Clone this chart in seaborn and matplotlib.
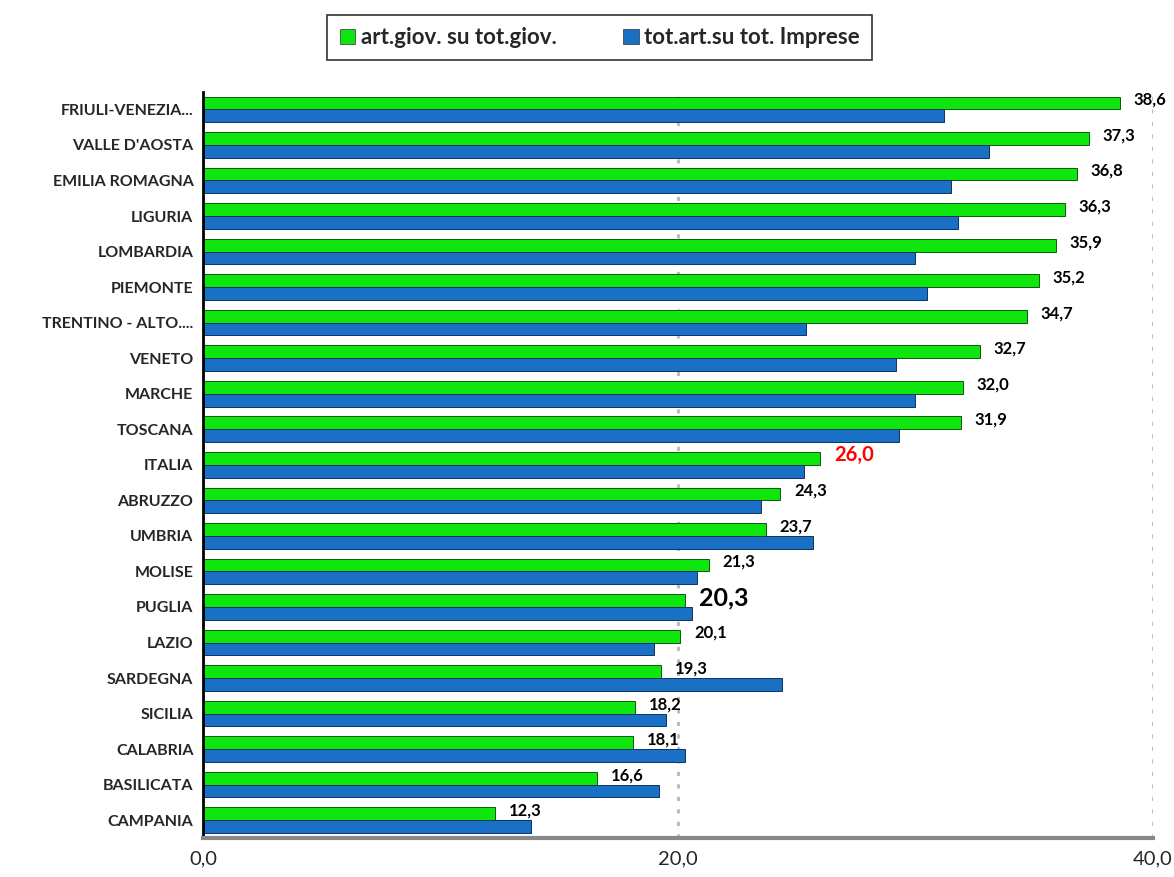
import pandas as pd
import seaborn as sns
import matplotlib.pyplot as plt
from matplotlib.patches import Patch

sns.set_style("white")
plt.rcParams['font.family'] = ['Lato', 'DejaVu Sans']

regions = ["FRIULI-VENEZIA...", "VALLE D'AOSTA", "EMILIA ROMAGNA", "LIGURIA", "LOMBARDIA",
           "PIEMONTE", "TRENTINO - ALTO....", "VENETO", "MARCHE", "TOSCANA", "ITALIA",
           "ABRUZZO", "UMBRIA", "MOLISE", "PUGLIA", "LAZIO", "SARDEGNA", "SICILIA",
           "CALABRIA", "BASILICATA", "CAMPANIA"]
art_giov = [38.6, 37.3, 36.8, 36.3, 35.9, 35.2, 34.7, 32.7, 32.0, 31.9, 26.0,
            24.3, 23.7, 21.3, 20.3, 20.1, 19.3, 18.2, 18.1, 16.6, 12.3]
tot_art = [31.2, 33.1, 31.5, 31.8, 30.0, 30.5, 25.4, 29.2, 30.0, 29.3, 25.3,
           23.5, 25.7, 20.8, 20.6, 19.0, 24.4, 19.5, 20.3, 19.2, 13.8]
series = ["art.giov. su tot.giov.", "tot.art.su tot. Imprese"]
colors = ["#0ee60e", "#1a70c4"]

df = pd.DataFrame({
    "regione": regions * 2,
    "valore": art_giov + tot_art,
    "serie": [series[0]] * len(regions) + [series[1]] * len(regions),
})

fig = plt.figure(figsize=(11.74, 8.77), dpi=100)
ax = fig.add_axes([0.173, 0.0445, 0.809, 0.851])

sns.barplot(data=df, x="valore", y="regione", hue="serie", orient="h",
            palette=colors, saturation=1, width=0.72, gap=0, errorbar=None, ax=ax,
            edgecolor="#0b5a0b", linewidth=0.7, legend=False)
# darker edges for blue bars
for bar in ax.patches[len(regions):]:
    bar.set_edgecolor("#0a3360")

ax.set_xlim(0, 40)
ax.set_ylim(len(regions) - 0.5, -0.5)
ax.set_xticks([0, 20, 40])
ax.set_xticklabels(["0,0", "20,0", "40,0"], fontsize=14.5)
ax.set_xlabel("")
ax.set_ylabel("")
ax.xaxis.grid(True, linestyle=(0, (1.5, 3)), color="#b8b8b8", linewidth=2)
ax.set_axisbelow(True)

ax.set_yticks(range(len(regions)))
ax.set_yticklabels(regions, fontsize=11.5, fontweight="bold")
ax.tick_params(axis="y", which="major", length=0, pad=7)
ax.set_yticks([i - 0.5 for i in range(len(regions) + 1)], minor=True)
ax.tick_params(axis="y", which="minor", length=5, width=2, color="black", direction="out")
ax.tick_params(axis="x", length=5, width=2, color="#888888", pad=4)

for s in ["top", "right"]:
    ax.spines[s].set_visible(False)
ax.spines["left"].set_color("black")
ax.spines["left"].set_linewidth(2)
ax.spines["bottom"].set_color("#888888")
ax.spines["bottom"].set_linewidth(3)

# value labels on the green bars
for i, (name, v) in enumerate(zip(regions, art_giov)):
    txt = f"{v:.1f}".replace(".", ",")
    color, size = "black", 12
    if name == "ITALIA":
        color, size = "red", 14.5
    elif name == "PUGLIA":
        size = 18
    ax.annotate(txt, (v, i - 0.19), xytext=(10, 2), textcoords="offset points",
                ha="left", va="center", fontsize=size, fontweight="bold", color=color)

handles = [Patch(facecolor=c, edgecolor="#333333", linewidth=0.5) for c in colors]
leg = fig.legend(handles, series, loc="center", bbox_to_anchor=(0.511, 0.957), ncol=2,
                 frameon=True, fancybox=False, edgecolor="black",
                 prop={"weight": "bold", "size": 16}, handlelength=0.7, handleheight=0.7,
                 handletextpad=0.25, columnspacing=3.0, borderpad=0.55, borderaxespad=0)
leg.get_frame().set_linewidth(1.2)
# pad the frame sideways like the original box
leg._legend_box.align = "center"
leg.borderpad = 0.55

fig.savefig("out.png", dpi=100)
